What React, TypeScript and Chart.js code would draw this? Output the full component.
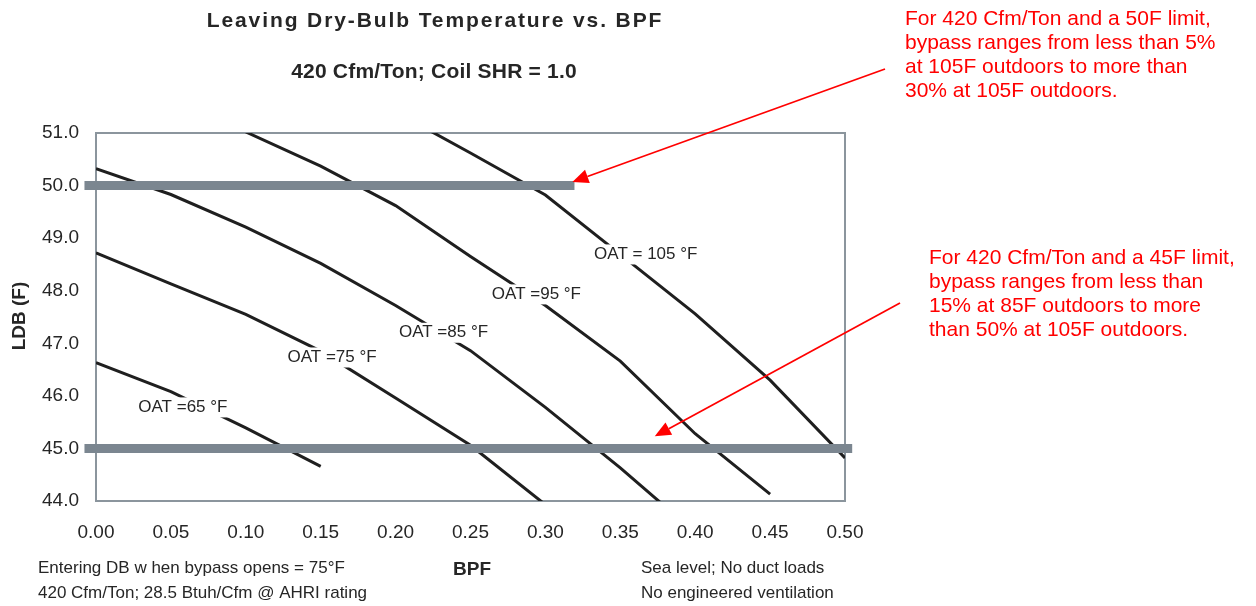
import React, { useEffect, useRef } from "react";
import { Chart, registerables } from "chart.js";

Chart.register(...registerables);

// ---- data ----
const xTicks = [0, 0.05, 0.1, 0.15, 0.2, 0.25, 0.3, 0.35, 0.4, 0.45, 0.5];
const yTicks = [44, 45, 46, 47, 48, 49, 50, 51];

const oat65Bpf = [0, 0.05, 0.1, 0.15];
const oat65Ldb = [46.63, 46.08, 45.39, 44.66];

const oat75Bpf = [0, 0.05, 0.1, 0.15, 0.2, 0.25, 0.3];
const oat75Ldb = [48.72, 48.13, 47.55, 46.85, 45.96, 45.06, 43.93];

const oat85Bpf = [0, 0.05, 0.1, 0.15, 0.2, 0.25, 0.3, 0.35, 0.4];
const oat85Ldb = [50.32, 49.83, 49.21, 48.52, 47.72, 46.86, 45.78, 44.63, 43.4];

const oat95Bpf = [0.1, 0.15, 0.2, 0.25, 0.3, 0.35, 0.4, 0.45];
const oat95Ldb = [51.02, 50.37, 49.62, 48.65, 47.72, 46.66, 45.28, 44.13];

const oat105Bpf = [0.2, 0.25, 0.3, 0.35, 0.4, 0.45, 0.5];
const oat105Ldb = [51.4, 50.62, 49.82, 48.69, 47.56, 46.3, 44.82];

const limit50Bpf = [-0.0077, 0.3194];
const limit50Ldb = [50, 50];
const limit45Bpf = [-0.0077, 0.5048];
const limit45Ldb = [45, 45];

const seriesLabels = ["OAT =65 °F", "OAT =75 °F", "OAT =85 °F", "OAT =95 °F", "OAT = 105 °F"];
const seriesLabelBpf = [0.058, 0.1576, 0.232, 0.294, 0.367];
const seriesLabelLdb = [45.78, 46.73, 47.2, 47.93, 48.69];

const titleText = "Leaving Dry-Bulb Temperature vs. BPF";
const subtitleText = "420 Cfm/Ton; Coil SHR = 1.0";
const xTitle = "BPF";
const yTitle = "LDB (F)";
const notesLeft = ["Entering DB w hen bypass opens = 75°F", "420 Cfm/Ton; 28.5 Btuh/Cfm @ AHRI rating"];
const notesRight = ["Sea level; No duct loads", "No engineered ventilation"];
const note50 = [
  "For 420 Cfm/Ton and a 50F limit,",
  "bypass ranges from less than 5%",
  "at 105F outdoors to more than",
  "30% at 105F outdoors.",
];
const note45 = [
  "For 420 Cfm/Ton and a 45F limit,",
  "bypass ranges from less than",
  "15% at 85F outdoors to more",
  "than 50% at 105F outdoors.",
];
const arrow50Tip = [0.318, 50.07];
const arrow45Tip = [0.373, 45.23];

const FONT = "'Liberation Sans', Arial, Helvetica, sans-serif";
const TEXT = "#262626";

const pts = (xs: number[], ys: number[]) => xs.map((x, i) => ({ x, y: ys[i] }));

function drawArrow(ctx: CanvasRenderingContext2D, x1: number, y1: number, x2: number, y2: number) {
  const ang = Math.atan2(y2 - y1, x2 - x1);
  const len = 16;
  const hw = 7;
  const c = Math.cos(ang);
  const s = Math.sin(ang);
  const bx = x2 - c * len;
  const by = y2 - s * len;
  ctx.save();
  ctx.strokeStyle = "#ff0000";
  ctx.fillStyle = "#ff0000";
  ctx.lineWidth = 1.75;
  ctx.beginPath();
  ctx.moveTo(x1, y1);
  ctx.lineTo(bx, by);
  ctx.stroke();
  ctx.beginPath();
  ctx.moveTo(x2, y2);
  ctx.lineTo(bx - s * hw, by + c * hw);
  ctx.lineTo(bx + s * hw, by - c * hw);
  ctx.closePath();
  ctx.fill();
  ctx.restore();
}

const decorPlugin = {
  id: "decor",
  beforeDatasetsDraw(chart: any) {
    const { ctx, chartArea: a } = chart;
    ctx.save();
    ctx.strokeStyle = "#8b959d";
    ctx.lineWidth = 2;
    ctx.strokeRect(a.left, a.top, a.right - a.left, a.bottom - a.top);
    ctx.restore();
  },
  afterDatasetsDraw(chart: any) {
    const { ctx } = chart;
    const xs = chart.scales.x;
    const ys = chart.scales.y;
    ctx.save();
    ctx.font = `17px ${FONT}`;
    ctx.textAlign = "center";
    ctx.textBaseline = "middle";
    seriesLabels.forEach((t, i) => {
      const px = xs.getPixelForValue(seriesLabelBpf[i]);
      const py = ys.getPixelForValue(seriesLabelLdb[i]);
      const w = ctx.measureText(t).width;
      ctx.fillStyle = "#ffffff";
      ctx.fillRect(px - w / 2 - 4, py - 10, w + 8, 20);
      ctx.fillStyle = TEXT;
      ctx.fillText(t, px, py);
    });
    ctx.restore();
  },
  afterDraw(chart: any) {
    const { ctx } = chart;
    const xs = chart.scales.x;
    const ys = chart.scales.y;
    ctx.save();
    ctx.fillStyle = TEXT;
    ctx.textBaseline = "alphabetic";
    ctx.textAlign = "center";
    // title
    ctx.font = `bold 21px ${FONT}`;
    (ctx as any).letterSpacing = "1.9px";
    ctx.fillText(titleText, 435, 27);
    (ctx as any).letterSpacing = "0.2px";
    ctx.fillText(subtitleText, 434, 78);
    (ctx as any).letterSpacing = "0px";
    // axis titles
    ctx.font = `bold 19px ${FONT}`;
    ctx.fillText(xTitle, 472, 575);
    ctx.save();
    ctx.translate(25, 316);
    ctx.rotate(-Math.PI / 2);
    ctx.fillText(yTitle, 0, 0);
    ctx.restore();
    // notes
    ctx.font = `17px ${FONT}`;
    ctx.textAlign = "left";
    ctx.fillText(notesLeft[0], 38, 573);
    ctx.fillText(notesLeft[1], 38, 598);
    ctx.fillText(notesRight[0], 641, 573);
    ctx.fillText(notesRight[1], 641, 598);
    // red annotations
    ctx.fillStyle = "#ff0000";
    ctx.font = `21px ${FONT}`;
    note50.forEach((t, i) => ctx.fillText(t, 905, 25 + i * 24));
    note45.forEach((t, i) => ctx.fillText(t, 929, 264 + i * 24));
    ctx.restore();
    drawArrow(ctx, 885, 69, xs.getPixelForValue(arrow50Tip[0]), ys.getPixelForValue(arrow50Tip[1]));
    drawArrow(ctx, 900, 303, xs.getPixelForValue(arrow45Tip[0]), ys.getPixelForValue(arrow45Tip[1]));
  },
};

export default function App() {
  const ref = useRef<HTMLCanvasElement | null>(null);
  useEffect(() => {
    if (!ref.current) return;
    const curve = (data: { x: number; y: number }[], label: string) => ({
      label,
      data,
      showLine: true,
      borderColor: "#1f1f1f",
      backgroundColor: "#1f1f1f",
      borderWidth: 3,
      pointRadius: 0,
      tension: 0,
    });
    const limit = (data: { x: number; y: number }[], label: string) => ({
      label,
      data,
      showLine: true,
      borderColor: "#7b8690",
      backgroundColor: "#7b8690",
      borderWidth: 9,
      pointRadius: 0,
      clip: false as any,
    });
    const chart = new Chart(ref.current, {
      type: "scatter",
      data: {
        datasets: [
          limit(pts(limit50Bpf, limit50Ldb), "50F limit"),
          limit(pts(limit45Bpf, limit45Ldb), "45F limit"),
          curve(pts(oat65Bpf, oat65Ldb), seriesLabels[0]),
          curve(pts(oat75Bpf, oat75Ldb), seriesLabels[1]),
          curve(pts(oat85Bpf, oat85Ldb), seriesLabels[2]),
          curve(pts(oat95Bpf, oat95Ldb), seriesLabels[3]),
          curve(pts(oat105Bpf, oat105Ldb), seriesLabels[4]),
        ] as any,
      },
      options: {
        animation: false,
        responsive: false,
        maintainAspectRatio: false,
        layout: { padding: { left: 0, right: 411, top: 133, bottom: 0 } },
        plugins: { legend: { display: false }, tooltip: { enabled: false }, title: { display: false } },
        scales: {
          x: {
            type: "linear",
            min: 0,
            max: 0.5,
            afterBuildTicks: (s: any) => {
              s.ticks = xTicks.map((v) => ({ value: v }));
            },
            afterFit: (s: any) => {
              s.height = 105;
            },
            grid: { display: false, drawTicks: false },
            border: { display: false },
            ticks: {
              padding: 20,
              color: TEXT,
              font: { family: FONT, size: 19 },
              maxRotation: 0,
              callback: (v: any) => Number(v).toFixed(2),
            },
          },
          y: {
            type: "linear",
            min: 44,
            max: 51,
            afterBuildTicks: (s: any) => {
              s.ticks = yTicks.map((v) => ({ value: v }));
            },
            afterFit: (s: any) => {
              s.width = 96;
            },
            grid: { display: false, drawTicks: false },
            border: { display: false },
            ticks: {
              padding: 17,
              color: TEXT,
              font: { family: FONT, size: 19 },
              callback: (v: any) => Number(v).toFixed(1),
            },
          },
        },
      },
      plugins: [decorPlugin],
    });
    return () => chart.destroy();
  }, []);
  return (
    <div style={{ position: "absolute", left: 0, top: 0, width: 1256, height: 606, background: "#ffffff" }}>
      <canvas ref={ref} width={1256} height={606} style={{ display: "block" }} />
    </div>
  );
}
